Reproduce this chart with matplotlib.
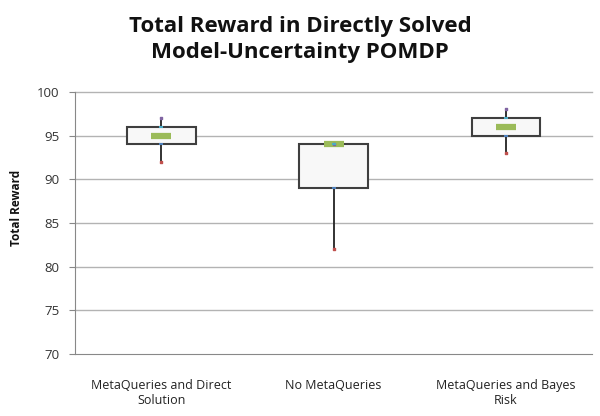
import numpy as np
import matplotlib.pyplot as plt

# Box statistics
categories = ['MetaQueries and Direct\nSolution', 'No MetaQueries', 'MetaQueries and Bayes\nRisk']
mins = [92, 82, 93]
q1 = [94, 89, 95]
medians = [95, 94, 96]
q3 = [96, 94, 97]
maxs = [97, 94, 98]

plt.rcParams['font.family'] = ['Open Sans', 'DejaVu Sans']

fig = plt.figure(figsize=(6, 4.16), dpi=100)
ax = fig.add_axes([0.125, 0.149, 0.862, 0.63])

x = np.arange(len(categories))

# grid
for y in [75, 80, 85, 90, 95, 100]:
    ax.axhline(y, color='#b3b3b3', linewidth=1, zorder=0, clip_on=False)

# whiskers
ax.vlines(x, mins, maxs, color='#222222', linewidth=1.3, zorder=1)

# boxes
ax.bar(x, np.array(q3) - np.array(q1), bottom=q1, width=0.4,
       color='#f8f8f8', edgecolor='#3f3f3f', linewidth=1.5, zorder=2)

# small markers at points
ax.scatter(x, maxs, marker='s', s=3, color='#8064a2', zorder=4)
ax.scatter(x, mins, marker='s', s=3, color='#c0504d', zorder=4)
ax.scatter(x, q1, marker='_', s=12, linewidths=1.5, color='#4f81bd', zorder=4)
ax.scatter(x, q3, marker='_', s=12, linewidths=1.5, color='#4bacc6', zorder=4)

# median bars
ax.scatter(x, medians, marker='_', s=200, linewidths=4.5, color='#9bbb59', zorder=3)

ax.set_xlim(-0.5, 2.5)
ax.set_ylim(70, 100)
ax.set_yticks([70, 75, 80, 85, 90, 95, 100])
ax.set_xticks(x)
ax.set_xticklabels(categories, fontsize=9, color='#222222')
ax.tick_params(axis='x', length=0, pad=18)
ax.tick_params(axis='y', labelsize=9.5, colors='#888888', labelcolor='#333333',
               direction='out', length=4, pad=7)

for side in ['top', 'right']:
    ax.spines[side].set_visible(False)
ax.spines['left'].set_color('#888888')
ax.spines['bottom'].set_color('#888888')

fig.text(0.027, 0.5, 'Total Reward', rotation=90, ha='center', va='center',
         fontsize=8.5, fontweight='bold', color='#111111')

fig.text(0.5, 0.905, 'Total Reward in Directly Solved\nModel-Uncertainty POMDP',
         ha='center', va='center', fontsize=16, fontweight='bold',
         linespacing=1.3, color='#111111')

fig.savefig('out.png', dpi=100)
